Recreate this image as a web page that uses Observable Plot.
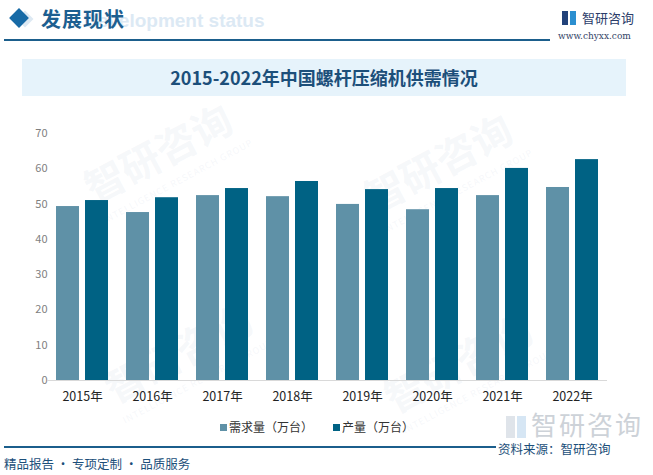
<!DOCTYPE html>
<html>
<head>
<meta charset="utf-8">
<script src="https://cdn.jsdelivr.net/npm/d3@7"></script>
<script src="https://cdn.jsdelivr.net/npm/@observablehq/plot@0.6"></script>
<style>
  html, body { margin:0; padding:0; background:#fff; }
  #page { position:relative; width:653px; height:475px; overflow:hidden; font-family:"Noto Sans CJK SC","Noto Sans",sans-serif; }
  .abs { position:absolute; white-space:nowrap; }
  .wm { position:absolute; color:rgba(200,212,224,0.18); font-size:40px; font-weight:bold; transform:rotate(-28deg); white-space:nowrap; }
  .wm small { display:block; font-size:9px; letter-spacing:1px; font-weight:normal; }
</style>
</head>
<body>
<div id="page">
  <!-- faint watermarks -->
  <div class="wm" style="left:80px;top:120px;">智研咨询<small>INTELLIGENCE RESEARCH GROUP</small></div>
  <div class="wm" style="left:360px;top:130px;">智研咨询<small>INTELLIGENCE RESEARCH GROUP</small></div>
  <div class="wm" style="left:100px;top:320px;">智研咨询<small>INTELLIGENCE RESEARCH GROUP</small></div>
  <div class="wm" style="left:380px;top:330px;">智研咨询<small>INTELLIGENCE RESEARCH GROUP</small></div>

  <!-- header -->
  <div class="abs" style="left:19px;top:13px;width:12px;height:12px;background:#dde9f3;transform:rotate(45deg);"></div>
  <div class="abs" style="left:12px;top:11px;width:14px;height:14px;background:#176aa6;transform:rotate(45deg);"></div>
  <div class="abs" style="left:84px;top:10px;font-family:'Liberation Sans',Arial,sans-serif;font-weight:bold;font-size:19px;color:#dce9f4;">Development status</div>
  <div class="abs" style="left:41px;top:4px;font-size:20px;font-weight:bold;color:#1d5f90;letter-spacing:1px;">发展现状</div>
  <div class="abs" style="left:4px;top:39px;width:546px;height:2px;background:#1b5e8c;"></div>
  <div class="abs" style="left:562px;top:11px;width:14px;height:14px;">
    <div style="position:absolute;left:0;top:0;width:6px;height:14px;background:#22427a;"></div>
    <div style="position:absolute;left:8px;top:0;width:6px;height:14px;background:#2b8fd0;"></div>
  </div>
  <div class="abs" style="left:582px;top:8px;font-size:13px;color:#2b3d6a;">智研咨询</div>
  <div class="abs" style="left:558px;top:31px;font-family:'DejaVu Serif','Liberation Serif',serif;font-size:9px;color:#334466;">www.chyxx.com</div>

  <!-- title box -->
  <div class="abs" style="left:22px;top:59px;width:604px;height:37px;background:#e6f3fb;"></div>
  <div class="abs" style="left:22px;top:59px;width:604px;height:37px;line-height:37px;text-align:center;font-size:18px;font-weight:bold;color:#1c4f7a;">2015-2022年中国螺杆压缩机供需情况</div>

  <!-- chart -->
  <div id="chart" class="abs" style="left:0;top:120px;"></div>

  <!-- legend -->
  <div id="legend" class="abs" style="left:0;top:418px;width:634px;text-align:center;font-size:12px;color:#333;"></div>

  <!-- bottom right watermark logo -->
  <div class="abs" style="left:506px;top:410px;font-size:26px;line-height:28px;color:#cdd2d8;letter-spacing:2px;">
    <span style="display:inline-block;width:9px;height:22px;background:#dfe4ea;margin-right:2px;vertical-align:-3px;"></span><span style="display:inline-block;width:9px;height:22px;background:#d6e6f4;margin-right:5px;vertical-align:-3px;"></span>智研咨询</div>

  <!-- footer -->
  <div class="abs" style="left:4px;top:446px;width:492px;height:2px;background:#1b5e8c;"></div>
  <div class="abs" style="left:498px;top:439px;font-size:12.5px;color:#1c4f7a;">资料来源：智研咨询</div>
  <div class="abs" style="left:4px;top:454px;font-size:12.5px;color:#1c4f7a;">精品报告 · 专项定制 · 品质服务</div>
</div>
<script>
const years = ["2015年","2016年","2017年","2018年","2019年","2020年","2021年","2022年"];
const demand = [49.3, 47.6, 52.4, 52.1, 49.9, 48.4, 52.4, 54.7];
const production = [51.0, 51.8, 54.4, 56.4, 54.1, 54.4, 60.1, 62.6];
const seriesNames = ["需求量（万台）", "产量（万台）"];
const seriesColors = ["#5f91a7", "#006284"];
const yTicks = [0, 10, 20, 30, 40, 50, 60, 70];

const data = years.flatMap((y, i) => [
  {year: y, series: seriesNames[0], value: demand[i]},
  {year: y, series: seriesNames[1], value: production[i]}
]);

const chart = Plot.plot({
  width: 653,
  height: 300,
  marginLeft: 47,
  marginRight: 46,
  marginTop: 13,
  marginBottom: 40,
  style: {background: "transparent", fontFamily: "'Noto Sans CJK SC','Noto Sans',sans-serif", fontSize: "12px", overflow: "visible"},
  fx: {domain: years, paddingInner: 0.257, paddingOuter: 0.1285, label: null},
  x: {domain: seriesNames, paddingInner: 0.207, paddingOuter: 0, axis: null},
  y: {domain: [0, 70], label: null},
  color: {domain: seriesNames, range: seriesColors},
  marks: [
    Plot.axisY({ticks: yTicks, tickSize: 0, tickPadding: 9, label: null, fill: "#7f7f7f", fontSize: 11}),
    Plot.axisFx({anchor: "bottom", tickSize: 0, tickPadding: 12, label: null, fill: "#222", fontSize: 12.5}),
    Plot.barY(data, {fx: "year", x: "series", y: "value", fill: "series"}),
    Plot.ruleY([0], {stroke: "#d9d9d9", strokeWidth: 1, insetLeft: -9, insetRight: -9})
  ]
});
document.getElementById("chart").appendChild(chart);

const legend = document.getElementById("legend");
seriesNames.forEach((name, i) => {
  const item = document.createElement("span");
  item.style.marginRight = i === 0 ? "20px" : "0";
  item.innerHTML = `<span style="display:inline-block;width:7px;height:7px;background:${seriesColors[i]};margin-right:2px;vertical-align:1px;"></span>${name}`;
  legend.appendChild(item);
});
</script>
</body>
</html>
